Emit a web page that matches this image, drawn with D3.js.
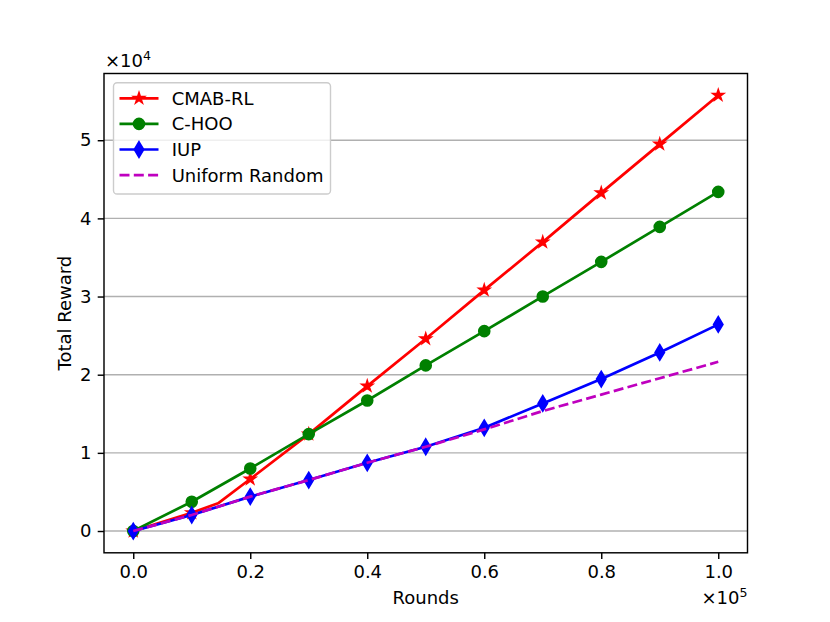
<!DOCTYPE html>
<html>
<head>
<meta charset="utf-8">
<script src="https://cdn.jsdelivr.net/npm/d3@7"></script>
<style>
  body { margin: 0; background: #fff; }
  svg text { font-family: "DejaVu Sans", sans-serif; }
</style>
</head>
<body>
<svg id="chart"></svg>
<script>
let width = 830;
let height = 622;
let plot = { left: 104, right: 747.5, top: 73.5, bottom: 552.8 };

// data (rounds vs total reward)
const cmabRounds = [0, 10000, 14500, 20000, 30000, 40000, 50000, 60000, 70000, 80000, 90000, 100000];
const cmabReward = [0, 2340, 3540, 6650, 12400, 18540, 24590, 30820, 36960, 43260, 49500, 55750];

const rounds = [0, 10000, 20000, 30000, 40000, 50000, 60000, 70000, 80000, 90000, 100000];
const chooReward = [0, 3750, 8000, 12400, 16700, 21190, 25570, 30010, 34440, 38910, 43390];
const iupReward = [0, 2050, 4400, 6520, 8730, 10780, 13210, 16330, 19440, 22850, 26430];
const randomReward = [0, 2050, 4400, 6520, 8730, 10780, 13000, 15350, 17450, 19550, 21650];

const seriesNames = ["CMAB-RL", "C-HOO", "IUP", "Uniform Random"];
const xTicks = [0, 20000, 40000, 60000, 80000, 100000];
const yTicks = [0, 10000, 20000, 30000, 40000, 50000];

const colors = {
  "CMAB-RL": "#ff0000",
  "C-HOO": "#008000",
  "IUP": "#0000ff",
  "Uniform Random": "#bf00bf",
};

let series = [
  { name: "CMAB-RL", marker: "star", dash: null,
    points: cmabRounds.map((x, i) => ({ x: x, y: cmabReward[i] })) },
  { name: "C-HOO", marker: "circle", dash: null,
    points: rounds.map((x, i) => ({ x: x, y: chooReward[i] })) },
  { name: "IUP", marker: "thin_diamond", dash: null,
    points: rounds.map((x, i) => ({ x: x, y: iupReward[i] })) },
  { name: "Uniform Random", marker: null, dash: "10,4.3",
    points: rounds.map((x, i) => ({ x: x, y: randomReward[i] })) },
];

let svg = d3.select("svg#chart").attr("width", width).attr("height", height);

let allY = [...cmabReward, ...chooReward, ...iupReward, ...randomReward];
let yMax = d3.max(allY);
let yPad = yMax * 0.05;

let xScale = d3.scaleLinear().domain([-5000, 105000]).range([plot.left, plot.right]);
let yScale = d3.scaleLinear().domain([-yPad, yMax + yPad]).range([plot.bottom, plot.top]);

const fontSize = 18;
const lineWidth = 2.7;
const markerR = 5.4;

drawGrid();
drawLines();
drawFrame();
drawAxes();
drawLabels();
drawLegend();

function markerPath(type) {
  if (type === "star") {
    let inner = markerR * 0.381966;
    let pts = d3.range(10).map((i) => {
      let r = i % 2 === 0 ? markerR : inner;
      let a = -Math.PI / 2 + (i * Math.PI) / 5;
      return [r * Math.cos(a), r * Math.sin(a)];
    });
    return "M" + pts.map((p) => p.join(",")).join("L") + "Z";
  }
  if (type === "thin_diamond") {
    let h = markerR * Math.SQRT2;
    let w = h * 0.6;
    return `M0,${-h}L${w},0L0,${h}L${-w},0Z`;
  }
  return null;
}

function appendMarker(g, type, color, x, y) {
  if (type === "circle") {
    g.append("circle")
      .attr("cx", x)
      .attr("cy", y)
      .attr("r", markerR)
      .attr("fill", color)
      .attr("stroke", color)
      .attr("stroke-width", 1.8);
  } else if (type) {
    g.append("path")
      .attr("transform", `translate(${x},${y})`)
      .attr("d", markerPath(type))
      .attr("fill", color)
      .attr("stroke", color)
      .attr("stroke-width", 1.8)
      .attr("stroke-linejoin", "miter");
  }
}

function drawGrid() {
  svg
    .append("g")
    .selectAll("line")
    .data(yTicks)
    .join("line")
    .attr("x1", plot.left)
    .attr("x2", plot.right)
    .attr("y1", (d) => yScale(d))
    .attr("y2", (d) => yScale(d))
    .attr("stroke", "#b0b0b0")
    .attr("stroke-width", 1.44);
}

function drawLines() {
  let line = d3
    .line()
    .x((d) => xScale(d.x))
    .y((d) => yScale(d.y));

  series.forEach((s) => {
    let g = svg.append("g");
    let color = colors[s.name];

    g.append("path")
      .datum(s.points)
      .attr("d", line)
      .attr("fill", "none")
      .attr("stroke", color)
      .attr("stroke-width", lineWidth)
      .attr("stroke-dasharray", s.dash)
      .attr("stroke-linejoin", "round")
      .attr("stroke-linecap", s.dash ? "butt" : "square");

    // markers only on the round-number points
    s.points
      .filter((d) => d.x % 10000 === 0)
      .forEach((d) => appendMarker(g, s.marker, color, xScale(d.x), yScale(d.y)));
  });
}

function drawFrame() {
  svg
    .append("rect")
    .attr("x", plot.left)
    .attr("y", plot.top)
    .attr("width", plot.right - plot.left)
    .attr("height", plot.bottom - plot.top)
    .attr("fill", "none")
    .attr("stroke", "#000")
    .attr("stroke-width", 1.44);
}

function drawAxes() {
  let xAxis = d3
    .axisBottom(xScale)
    .tickValues(xTicks)
    .tickSize(6.3)
    .tickPadding(6.3)
    .tickFormat((d) => (d / 100000).toFixed(1));

  let yAxis = d3
    .axisLeft(yScale)
    .tickValues(yTicks)
    .tickSize(6.3)
    .tickPadding(6.3)
    .tickFormat((d) => d / 10000);

  svg
    .append("g")
    .attr("transform", `translate(0, ${plot.bottom})`)
    .call(xAxis)
    .call((g) => g.select(".domain").remove())
    .call((g) => g.selectAll("line").attr("stroke", "#000").attr("stroke-width", 1.44))
    .call((g) =>
      g.selectAll("text")
        .attr("fill", "#000")
        .style("font-size", fontSize + "px")
        .style("font-family", "DejaVu Sans")
    );

  svg
    .append("g")
    .attr("transform", `translate(${plot.left}, 0)`)
    .call(yAxis)
    .call((g) => g.select(".domain").remove())
    .call((g) => g.selectAll("line").attr("stroke", "#000").attr("stroke-width", 1.44))
    .call((g) =>
      g.selectAll("text")
        .attr("fill", "#000")
        .style("font-size", fontSize + "px")
        .style("font-family", "DejaVu Sans")
    );
}

function drawLabels() {
  svg
    .append("text")
    .attr("x", (plot.left + plot.right) / 2)
    .attr("y", 604)
    .attr("text-anchor", "middle")
    .style("font-size", fontSize + "px")
    .text("Rounds");

  svg
    .append("text")
    .attr("transform", `translate(71, ${(plot.top + plot.bottom) / 2}) rotate(-90)`)
    .attr("text-anchor", "middle")
    .style("font-size", fontSize + "px")
    .text("Total Reward");

  // offset texts
  let yOff = svg
    .append("text")
    .attr("x", plot.left + 1)
    .attr("y", 67)
    .style("font-size", fontSize + "px");
  yOff.append("tspan").text("\u00d710");
  yOff.append("tspan").attr("dy", -7).style("font-size", "12.6px").text("4");

  let xOff = svg
    .append("text")
    .attr("x", plot.right)
    .attr("y", 604)
    .attr("text-anchor", "end")
    .style("font-size", fontSize + "px");
  xOff.append("tspan").text("\u00d710");
  xOff.append("tspan").attr("dy", -7).style("font-size", "12.6px").text("5");
}

function drawLegend() {
  let lg = svg.append("g");

  lg.append("rect")
    .attr("x", 113.5)
    .attr("y", 82.7)
    .attr("width", 217)
    .attr("height", 111.3)
    .attr("rx", 3.6)
    .attr("fill", "#fff")
    .attr("fill-opacity", 0.8)
    .attr("stroke", "#cccccc")
    .attr("stroke-width", 1.4);

  let rowY = (i) => 98.3 + i * 25.6;

  series.forEach((s, i) => {
    let y = rowY(i);
    let color = colors[s.name];

    lg.append("line")
      .attr("x1", 119.5)
      .attr("x2", 158.5)
      .attr("y1", y)
      .attr("y2", y)
      .attr("stroke", color)
      .attr("stroke-width", lineWidth)
      .attr("stroke-dasharray", s.dash);

    appendMarker(lg, s.marker, color, 139, y);

    lg.append("text")
      .attr("x", 171.7)
      .attr("y", y)
      .attr("dy", "0.36em")
      .style("font-size", fontSize + "px")
      .text(seriesNames[i]);
  });
}
</script>
</body>
</html>
